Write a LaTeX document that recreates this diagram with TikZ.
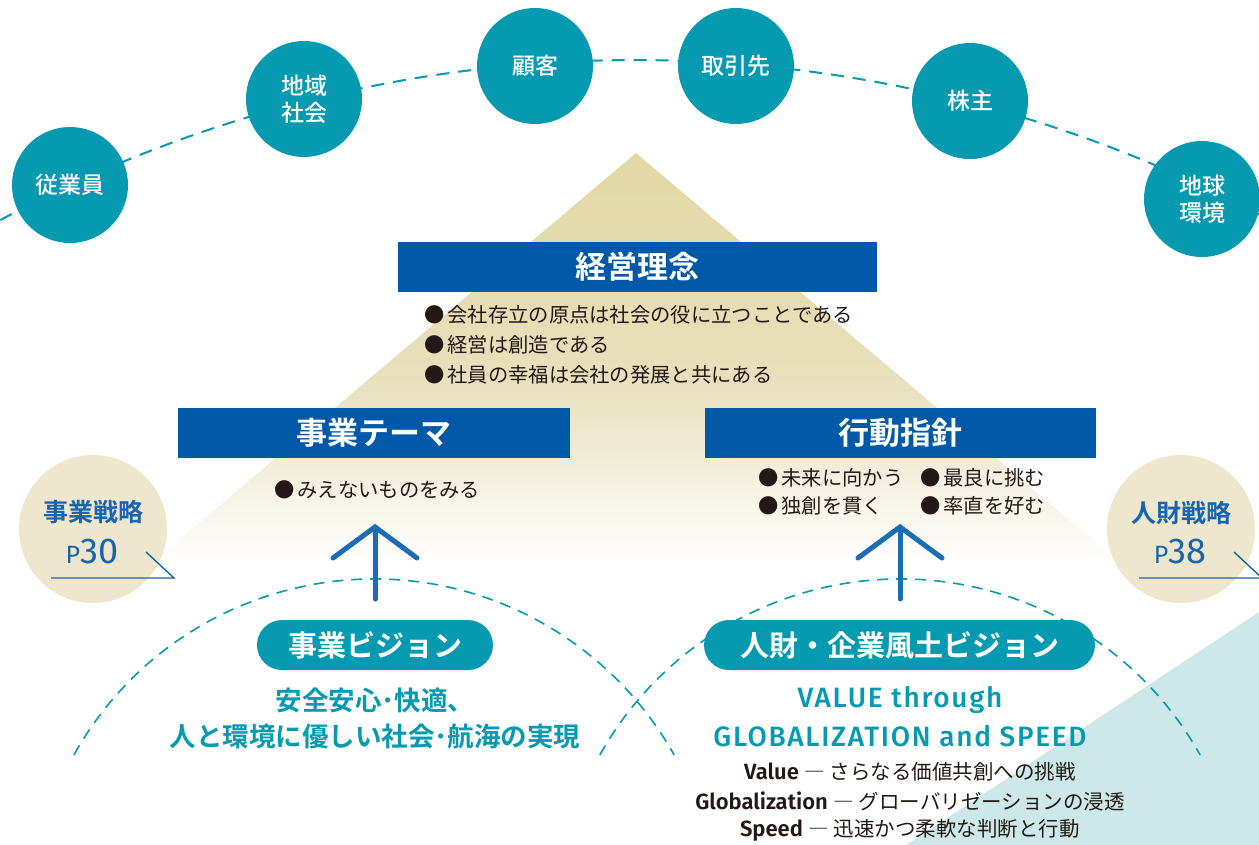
\documentclass[tikz,border=0pt]{standalone}
\usepackage{fontspec}
\setmainfont{Fira Sans}
\newfontfamily\jp{Noto Sans CJK JP}[BoldFont={Noto Sans CJK JP Bold}]
\newfontfamily\jpmed{Noto Sans CJK JP Medium}
\newfontfamily\fira{Fira Sans}
\newfontfamily\firasp{Fira Sans Medium}[LetterSpace=6]
\newfontfamily\firasb{Fira Sans SemiBold}
\definecolor{teal1}{HTML}{069AB1}
\definecolor{blue1}{HTML}{0059A8}
\definecolor{arrowblue}{HTML}{1A6CB6}
\definecolor{txtblue}{HTML}{1765B0}
\definecolor{beigeC}{HTML}{EEE6CD}
\definecolor{ink}{HTML}{231815}
\definecolor{lteal}{HTML}{CCE8E9}
\definecolor{bT}{HTML}{E2D8A4}
\definecolor{bM1}{HTML}{E8E0BC}
\definecolor{bM2}{HTML}{F1ECD8}
\pgfdeclareverticalshading{trishade}{100bp}{color(0bp)=(white); color(29bp)=(white); color(41bp)=(bM2); color(50bp)=(bM1); color(75bp)=(bT); color(100bp)=(bT)}
\tikzset{
  stake/.style={circle, fill=teal1, minimum size=116pt, inner sep=0pt, text=white, align=center, font=\jpmed\fontsize{23}{27}\selectfont},
  topdash/.style={teal1, line width=2pt, dash pattern=on 13pt off 9pt},
  arcdash/.style={teal1, line width=1.6pt, dash pattern=on 11pt off 8pt},
  bluebox/.style={fill=blue1, text=white, inner sep=0pt, minimum height=50pt, font=\jp\bfseries\fontsize{31}{31}\selectfont},
  bul/.style={anchor=west, inner sep=0pt, text=ink, font=\jp\fontsize{20.3}{20.3}\selectfont},
  upArrow/.style={arrowblue, line width=5pt, line cap=round, line join=miter},
  pill/.style={fill=teal1, text=white, inner sep=0pt, minimum height=50pt, rounded corners=25pt, font=\jp\bfseries\fontsize{29}{29}\selectfont},
  tealtxt/.style={text=teal1, inner sep=0pt, font=\jp\bfseries\fontsize{26.5}{26.5}\selectfont},
  engtxt/.style={text=teal1, inner sep=0pt, font=\firasp\fontsize{28}{28}\selectfont},
  blk/.style={text=ink, inner sep=0pt, font=\fontsize{22}{22}\selectfont},
  sidecirc/.style={circle, fill=beigeC, minimum size=148pt, inner sep=0pt},
  sidetxt/.style={text=txtblue, inner sep=0pt, font=\jp\bfseries\fontsize{25}{25}\selectfont},
  pagetxt/.style={text=txtblue, inner sep=0pt},
  pline/.style={txtblue, line width=1.4pt}
}
\newcommand{\bulmark}{●\hspace{0.15em}}
\newcommand{\jpsm}{\jp\fontsize{20.5}{20.5}\selectfont}
\begin{document}
\begin{tikzpicture}[x=1pt,y=-1pt]
\useasboundingbox (0,0) rectangle (1259,844);
\clip (0,0) rectangle (1259,844);
\fill[white] (0,0) rectangle (1259,844);
% light teal corner
\fill[lteal] (1259,612) -- (905,846) -- (1259,846) -- cycle;
% beige pyramid
\shade[shading=trishade] (636,153) -- (1164,600) -- (108,600) -- cycle;
% stakeholder arc
\draw[topdash] (635,1399) ++(118.3:1339pt) arc[start angle=118.3, end angle=61, radius=1339pt];
\node[stake] (c1) at (70,185) {従業員};
\node[stake] (c2) at (304,99) {地域\\社会};
\node[stake] (c3) at (535,66) {顧客};
\node[stake] (c4) at (736,66) {取引先};
\node[stake] (c5) at (970,101) {株主};
\node[stake] (c6) at (1202,199) {地球\\環境};
% philosophy
\node[bluebox, minimum width=479pt] (rinen) at (637.5,267) {経営理念};
\node[bul] (r1) at (424,315) {\bulmark 会社存立の原点は社会の役に立つことである};
\node[bul] (r2) at (424,345) {\bulmark 経営は創造である};
\node[bul] (r3) at (424,375) {\bulmark 社員の幸福は会社の発展と共にある};
\node[bluebox, minimum width=392pt] (theme) at (374,433) {事業テーマ};
\node[bluebox, minimum width=391pt] (shishin) at (900.5,433) {行動指針};
\node[bul] (t1) at (274,490) {\bulmark みえないものをみる};
\node[bul] (s1) at (758,478) {\bulmark 未来に向かう};
\node[bul] (s2) at (920,478) {\bulmark 最良に挑む};
\node[bul] (s3) at (758,506) {\bulmark 独創を貫く};
\node[bul] (s4) at (920,506) {\bulmark 率直を好む};
% side circles
\node[sidecirc] (side1) at (93,529) {};
\node[sidetxt] (side1a) at (93,512) {事業戦略};
\node[pagetxt] (side1b) at (92,551) {{\fira\fontsize{25}{25}\selectfont P}{\fira\fontsize{36}{36}\selectfont 30}};
\coordinate (u1a) at (51,578);
\coordinate (u1b) at (174,578);
\coordinate (u1c) at (146,552);
\draw[pline] (u1a) -- (u1b) -- (u1c);
\node[sidecirc] (side2) at (1181,529) {};
\node[sidetxt] (side2a) at (1181,513) {人財戦略};
\node[pagetxt] (side2b) at (1180,551) {{\fira\fontsize{25}{25}\selectfont P}{\fira\fontsize{36}{36}\selectfont 38}};
\coordinate (u2a) at (1139,578);
\coordinate (u2b) at (1262,578);
\coordinate (u2c) at (1234,552);
\draw[pline] (u2a) -- (u2b) -- (u2c);
% vision arcs
\draw[arcdash] (374,923) ++(150.75:344pt) arc[start angle=150.75, end angle=29.25, radius=344pt];
\draw[arcdash] (900,923) ++(150.75:344pt) arc[start angle=150.75, end angle=29.25, radius=344pt];
% arrows
\coordinate (a1top) at (375,527);
\coordinate (a1bot) at (375,599);
\coordinate (a1l) at (333,558);
\coordinate (a1r) at (417,558);
\draw[upArrow] (a1bot) -- (a1top);
\draw[upArrow] (a1l) -- (a1top) -- (a1r);
\coordinate (a2top) at (900,527);
\coordinate (a2bot) at (900,599);
\coordinate (a2l) at (858,558);
\coordinate (a2r) at (942,558);
\draw[upArrow] (a2bot) -- (a2top);
\draw[upArrow] (a2l) -- (a2top) -- (a2r);
% visions
\node[pill, minimum width=236pt] (v1) at (375,645) {事業ビジョン};
\node[pill, minimum width=391pt] (v2) at (899.5,645) {人財・企業風土ビジョン};
\node[tealtxt] (v1a) at (375,700) {安全安心･快適、};
\node[tealtxt] (v1b) at (375,736) {人と環境に優しい社会･航海の実現};
\node[engtxt] (v2a) at (900,700) {VALUE through};
\node[engtxt] (v2b) at (900,736) {GLOBALIZATION and SPEED};
\node[blk] (l1) at (910,772) {{\firasb Value} {\jpsm ― さらなる価値共創への挑戦}};
\node[blk] (l2) at (910,801) {{\firasb Globalization} {\jpsm ― グローバリゼーションの浸透}};
\node[blk] (l3) at (910,830) {{\firasb Speed} {\jpsm ― 迅速かつ柔軟な判断と行動}};
\end{tikzpicture}
\end{document}
